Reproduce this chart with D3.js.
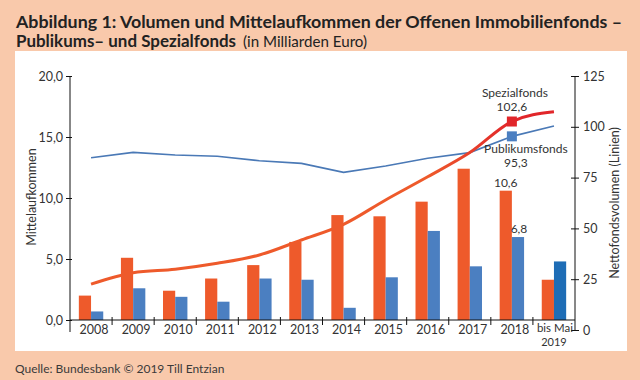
<!DOCTYPE html>
<html>
<head>
<meta charset="utf-8">
<script src="https://cdn.jsdelivr.net/npm/d3@7"></script>
<style>
  body { margin: 0; background: #f9c9ab; }
  svg { display: block; }
  text { font-family: Lato, 'DejaVu Sans Condensed', sans-serif; fill: #333; }
</style>
</head>
<body>
<script>
var w = 640;
var h = 380;

var years = ['2008','2009','2010','2011','2012','2013','2014','2015','2016','2017','2018','bis Mai 2019'];
var spezialAufkommen = [2.0, 5.1, 2.4, 3.4, 4.5, 6.4, 8.6, 8.5, 9.7, 12.4, 10.6, 3.3];
var publikumsAufkommen = [0.7, 2.6, 1.9, 1.5, 3.4, 3.3, 1.0, 3.5, 7.3, 4.4, 6.8, 4.8];
var spezialVolumen = [22.6, 28.2, 29.9, 32.8, 36.9, 44.3, 52.0, 64.0, 75.4, 87.3, 102.6, 107.4];
var publikumsVolumen = [84.8, 87.4, 86.1, 85.5, 83.3, 82.0, 77.6, 80.7, 84.5, 87.3, 95.3, 100.4];
var leftTicks = [0, 5, 10, 15, 20];
var rightTicks = [0, 25, 50, 75, 100, 125];

var orange = '#ee5a2b';
var red = '#e1262a';
var blue = '#4b7fc1';
var blueDark = '#1e6db6';

var x = d3.scaleBand().domain(years).range([70, 575]).paddingInner(0.42).paddingOuter(0.21);
var xs = d3.scaleBand().domain(['s', 'p']).range([0, x.bandwidth()]);
var cx = function(i) { return x(years[i]) + x.bandwidth() / 2; };

var yL = d3.scaleLinear().domain([0, 20]).range([320, 76]);
var yR = d3.scaleLinear().domain([0, 125]).range([330, 76]);

var fmt = function(v) { return d3.format('.1f')(v).replace('.', ','); };

var svg = d3.select('body').append('svg')
  .attr('width', w)
  .attr('height', h);

// panel
svg.append('rect')
  .attr('x', 15).attr('y', 51)
  .attr('width', 612).attr('height', 300)
  .attr('fill', '#fff');

// title
svg.append('text')
  .attr('x', 16).attr('y', 28)
  .attr('font-size', 17).attr('font-weight', 'bold')
  .attr('textLength', 606).attr('lengthAdjust', 'spacingAndGlyphs')
  .style('fill', '#222')
  .text('Abbildung 1: Volumen und Mittelaufkommen der Offenen Immobilienfonds –');
svg.append('text')
  .attr('x', 16).attr('y', 47)
  .attr('font-size', 17).attr('font-weight', 'bold')
  .attr('textLength', 220).attr('lengthAdjust', 'spacingAndGlyphs')
  .style('fill', '#222')
  .text('Publikums– und Spezialfonds');
svg.append('text')
  .attr('x', 243).attr('y', 47)
  .attr('font-size', 15)
  .attr('textLength', 124).attr('lengthAdjust', 'spacingAndGlyphs')
  .style('fill', '#222')
  .text('(in Milliarden Euro)');

// bars
var bars = svg.append('g');
bars.selectAll('rect.s')
  .data(spezialAufkommen)
  .enter().append('rect')
  .attr('class', 's')
  .attr('x', function(d, i) { return x(years[i]) + xs('s'); })
  .attr('y', function(d) { return yL(d); })
  .attr('width', xs.bandwidth())
  .attr('height', function(d) { return yL(0) - yL(d); })
  .attr('fill', orange);
bars.selectAll('rect.p')
  .data(publikumsAufkommen)
  .enter().append('rect')
  .attr('class', 'p')
  .attr('x', function(d, i) { return x(years[i]) + xs('p'); })
  .attr('y', function(d) { return yL(d); })
  .attr('width', xs.bandwidth())
  .attr('height', function(d) { return yL(0) - yL(d); })
  .attr('fill', function(d, i) { return i == years.length - 1 ? blueDark : blue; });

// gradient for spezialfonds line (orange -> red)
var grad = svg.append('defs').append('linearGradient')
  .attr('id', 'lg')
  .attr('gradientUnits', 'userSpaceOnUse')
  .attr('x1', cx(8)).attr('x2', cx(10)).attr('y1', 0).attr('y2', 0);
grad.append('stop').attr('offset', 0).attr('stop-color', orange);
grad.append('stop').attr('offset', 1).attr('stop-color', red);

var lineP = d3.line()
  .x(function(d, i) { return cx(i); })
  .y(function(d) { return yR(d); });
var lineS = d3.line()
  .x(function(d, i) { return cx(i); })
  .y(function(d) { return yR(d); })
  .curve(d3.curveMonotoneX);

svg.append('path')
  .attr('d', lineP(publikumsVolumen))
  .attr('fill', 'none')
  .attr('stroke', '#4a79b6')
  .attr('stroke-width', 1.6);
svg.append('path')
  .attr('d', lineS(spezialVolumen))
  .attr('fill', 'none')
  .attr('stroke', 'url(#lg)')
  .attr('stroke-width', 3);

// markers 2018
var i18 = 10;
svg.append('rect')
  .attr('x', cx(i18) - 5).attr('y', yR(spezialVolumen[i18]) - 5)
  .attr('width', 10).attr('height', 10)
  .attr('fill', red);
svg.append('rect')
  .attr('x', cx(i18) - 5).attr('y', yR(publikumsVolumen[i18]) - 5)
  .attr('width', 10).attr('height', 10)
  .attr('fill', blue);

// annotations
var ann = svg.append('g').attr('font-size', 12).attr('text-anchor', 'middle');
ann.append('text').attr('x', cx(i18) + 3).attr('y', 97).text('Spezialfonds');
ann.append('text').attr('x', cx(i18)).attr('y', 111).text(fmt(spezialVolumen[i18]));
ann.append('text').attr('x', cx(i18) + 14).attr('y', 153).text('Publikumsfonds');
ann.append('text').attr('x', cx(i18) + 4).attr('y', 167).text(fmt(publikumsVolumen[i18]));
ann.append('text')
  .attr('x', x(years[i18]) + xs('s') + xs.bandwidth() / 2)
  .attr('y', yL(spezialAufkommen[i18]) - 4)
  .text(fmt(spezialAufkommen[i18]));
ann.append('text')
  .attr('x', x(years[i18]) + xs('p') + xs.bandwidth() / 2 + 1)
  .attr('y', yL(publikumsAufkommen[i18]) - 4)
  .text(fmt(publikumsAufkommen[i18]));

// left axis
var gl = svg.append('g').attr('transform', 'translate(70,0)')
  .call(d3.axisLeft(yL).tickValues(leftTicks).tickFormat(fmt).tickSize(4).tickPadding(3));
gl.select('.domain').remove();
gl.selectAll('.tick line').attr('x1', 2).attr('stroke', '#111');
gl.selectAll('.tick text').attr('font-size', 12.5);
svg.append('line').attr('x1', 70).attr('x2', 70).attr('y1', 76).attr('y2', 332).attr('stroke', '#111');

// right axis
var gr = svg.append('g').attr('transform', 'translate(575,0)')
  .call(d3.axisRight(yR).tickValues(rightTicks).tickSize(4).tickPadding(4));
gr.select('.domain').remove();
gr.selectAll('.tick line').attr('x1', -4).attr('stroke', '#111');
gr.selectAll('.tick text').attr('font-size', 12.5);
svg.append('line').attr('x1', 575).attr('x2', 575).attr('y1', 76).attr('y2', 330).attr('stroke', '#111');

// x axis
svg.append('line').attr('x1', 70).attr('x2', 575).attr('y1', 320).attr('y2', 320).attr('stroke', '#111');
svg.append('g').selectAll('line')
  .data(years.slice(1))
  .enter().append('line')
  .attr('x1', function(d) { return x(d) - x.step() * x.paddingInner() / 2; })
  .attr('x2', function(d) { return x(d) - x.step() * x.paddingInner() / 2; })
  .attr('y1', 317).attr('y2', 325)
  .attr('stroke', '#111');
var xl = svg.append('g').attr('font-size', 12.5).attr('text-anchor', 'middle');
years.forEach(function(d, i) {
  if (d == 'bis Mai 2019') {
    xl.append('text').attr('font-size', 11)
      .attr('x', cx(i) + 1).attr('y', 332)
      .attr('textLength', 36).attr('lengthAdjust', 'spacingAndGlyphs').text('bis Mai');
    xl.append('text').attr('font-size', 11)
      .attr('x', cx(i)).attr('y', 345.5).text('2019');
  } else {
    xl.append('text').attr('x', cx(i) + 3).attr('y', 334).text(d);
  }
});

// axis titles
svg.append('text')
  .attr('transform', 'translate(36,197) rotate(-90)')
  .attr('text-anchor', 'middle').attr('font-size', 12.5)
  .text('Mittelaufkommen');
svg.append('text')
  .attr('transform', 'translate(619,203) rotate(-90)')
  .attr('text-anchor', 'middle').attr('font-size', 12.5)
  .text('Nettofondsvolumen (Linien)');

// source
svg.append('text')
  .attr('x', 15).attr('y', 373)
  .attr('font-size', 12)
  .style('fill', '#3a3a3a')
  .text('Quelle: Bundesbank © 2019 Till Entzian');
</script>
</body>
</html>
